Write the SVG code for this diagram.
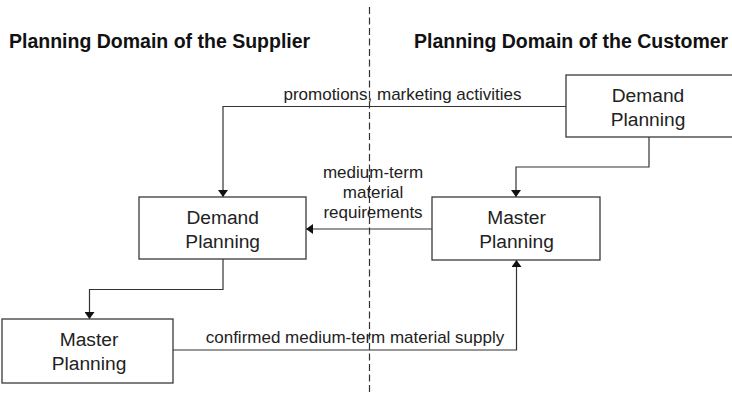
<svg xmlns="http://www.w3.org/2000/svg" width="732" height="394" viewBox="0 0 732 394">
<style>
.box{fill:#fff;stroke:#3a3a3a;stroke-width:1.3}
.node{font-family:"Liberation Sans",Arial,sans-serif;font-size:19.2px;fill:#222;text-anchor:middle}
.lbl{font-family:"Liberation Sans",Arial,sans-serif;font-size:17px;fill:#222;text-anchor:middle}
.title{font-family:"Liberation Sans",Arial,sans-serif;font-size:19.5px;font-weight:bold;fill:#111}
.conn{fill:none;stroke:#333;stroke-width:1.2}
</style>
<defs>
<marker id="arr" markerUnits="userSpaceOnUse" viewBox="0 0 7 10" refX="7" refY="5" markerWidth="7" markerHeight="10" orient="auto">
<path d="M0,0 L7,5 L0,10 z" fill="#111"/>
</marker>
</defs>
<rect width="732" height="394" fill="#fff"/>
<line x1="369.5" y1="7" x2="369.5" y2="394" stroke="#333" stroke-width="1.2" stroke-dasharray="7,3.5"/>
<text class="title" x="9" y="48">Planning Domain of the Supplier</text>
<text class="title" x="414" y="48">Planning Domain of the Customer</text>
<g id="connectors">
<path class="conn" d="M566,106.5 H223 V197" marker-end="url(#arr)"/>
<path class="conn" d="M649,137 V167 H516 V197" marker-end="url(#arr)"/>
<path class="conn" d="M432,229 H306" marker-end="url(#arr)"/>
<path class="conn" d="M223,259 V289.5 H89.5 V319" marker-end="url(#arr)"/>
<path class="conn" d="M173,350 H516.5 V260" marker-end="url(#arr)"/>
<text class="lbl" x="402.5" y="100">promotions, marketing activities</text>
<text class="lbl" x="373" y="178">medium-term</text>
<text class="lbl" x="373" y="198">material</text>
<text class="lbl" x="373" y="218">requirements</text>
<text class="lbl" x="355" y="342.5">confirmed medium-term material supply</text>
</g>
<g id="cust-demand">
<rect class="box" x="566" y="75" width="180" height="62"/>
<text class="node" x="648" y="102">Demand</text>
<text class="node" x="648" y="126">Planning</text>
</g>
<g id="cust-master">
<rect class="box" x="432" y="197" width="168" height="63"/>
<text class="node" x="516.5" y="224">Master</text>
<text class="node" x="516.5" y="248">Planning</text>
</g>
<g id="supp-demand">
<rect class="box" x="139" y="197" width="167" height="62"/>
<text class="node" x="222.7" y="224">Demand</text>
<text class="node" x="222.7" y="248">Planning</text>
</g>
<g id="supp-master">
<rect class="box" x="2" y="319" width="171" height="64"/>
<text class="node" x="89" y="346">Master</text>
<text class="node" x="89" y="370">Planning</text>
</g>
</svg>
